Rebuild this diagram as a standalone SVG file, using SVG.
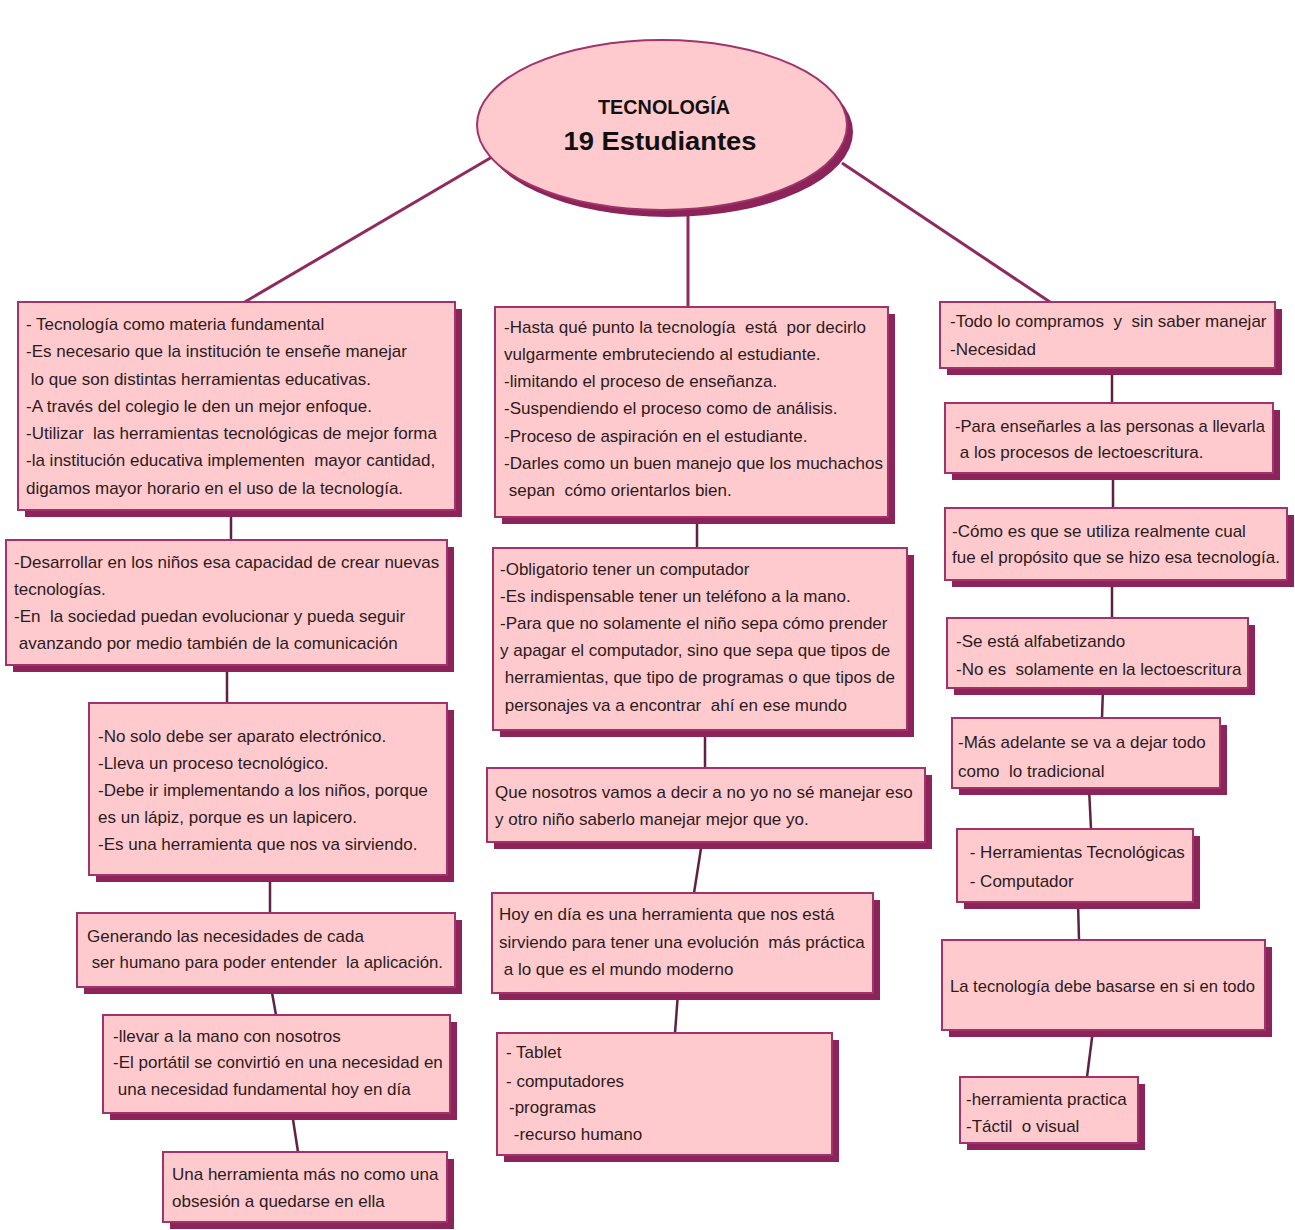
<svg xmlns="http://www.w3.org/2000/svg" width="1295" height="1230" viewBox="0 0 1295 1230" xml:space="preserve">
<style>
.sh{fill:#8C2459;stroke:none}
.bx{fill:#FFCACD;stroke:#A0346A;stroke-width:2}
.t{font-family:"Liberation Sans",Arial,sans-serif;font-size:17px;fill:#2B1B1E;white-space:pre}
.c{stroke:#5E2342;stroke-width:2.5;fill:none}
.ce{stroke:#8E2A5E;stroke-width:3;fill:none}
.h{font-family:"Liberation Sans",Arial,sans-serif;font-weight:bold;fill:#111}
</style>
<rect x="0" y="0" width="1295" height="1230" fill="#FFFFFF"/>
<g id="connectors">
<line class="ce" x1="492" y1="157" x2="243" y2="303"/>
<line class="ce" x1="688" y1="212" x2="688" y2="307"/>
<line class="ce" x1="842" y1="163" x2="1050" y2="302"/>
<line class="c" x1="231" y1="510" x2="231" y2="540"/>
<line class="c" x1="227" y1="665" x2="227" y2="703"/>
<line class="c" x1="270" y1="875" x2="270" y2="913"/>
<line class="c" x1="271" y1="987" x2="276" y2="1015"/>
<line class="c" x1="292" y1="1113" x2="298" y2="1152"/>
<line class="c" x1="697" y1="517" x2="697" y2="548"/>
<line class="c" x1="705" y1="730" x2="705" y2="768"/>
<line class="c" x1="702" y1="842" x2="694" y2="893"/>
<line class="c" x1="678" y1="993" x2="675" y2="1033"/>
<line class="c" x1="1112" y1="368" x2="1112" y2="403"/>
<line class="c" x1="1113" y1="473" x2="1113" y2="508"/>
<line class="c" x1="1112" y1="580" x2="1112" y2="618"/>
<line class="c" x1="1103" y1="688" x2="1102" y2="718"/>
<line class="c" x1="1089" y1="788" x2="1091" y2="829"/>
<line class="c" x1="1078" y1="902" x2="1079" y2="940"/>
<line class="c" x1="1093" y1="1030" x2="1087" y2="1077"/>
</g>
<g id="n-main">
<ellipse cx="668" cy="132" rx="185" ry="85" class="sh"/>
<ellipse cx="662" cy="125" rx="185" ry="85" fill="#FFCACD" stroke="#A0346A" stroke-width="2"/>
<text class="h" x="664" y="114" font-size="21" text-anchor="middle" textLength="132" lengthAdjust="spacingAndGlyphs">TECNOLOGÍA</text>
<text class="h" x="660" y="150" font-size="25" text-anchor="middle" textLength="193" lengthAdjust="spacingAndGlyphs">19 Estudiantes</text>
</g>
<g id="n-l1">
<rect class="sh" x="25" y="309" width="437" height="208"/>
<rect class="bx" x="18" y="302" width="437" height="208"/>
<text class="t"><tspan x="26" y="330">- Tecnología como materia fundamental</tspan><tspan x="26" y="357">-Es necesario que la institución te enseñe manejar</tspan><tspan x="26" y="385"> lo que son distintas herramientas educativas.</tspan><tspan x="26" y="412">-A través del colegio le den un mejor enfoque.</tspan><tspan x="26" y="439">-Utilizar  las herramientas tecnológicas de mejor forma</tspan><tspan x="26" y="466">-la institución educativa implementen  mayor cantidad,</tspan><tspan x="26" y="494">digamos mayor horario en el uso de la tecnología.</tspan></text>
</g>
<g id="n-l2">
<rect class="sh" x="13" y="547" width="441" height="125"/>
<rect class="bx" x="6" y="540" width="441" height="125"/>
<text class="t"><tspan x="14" y="568">-Desarrollar en los niños esa capacidad de crear nuevas</tspan><tspan x="14" y="595">tecnologías.</tspan><tspan x="14" y="622">-En  la sociedad puedan evolucionar y pueda seguir</tspan><tspan x="14" y="649"> avanzando por medio también de la comunicación</tspan></text>
</g>
<g id="n-l3">
<rect class="sh" x="96" y="710" width="358" height="172"/>
<rect class="bx" x="89" y="703" width="358" height="172"/>
<text class="t"><tspan x="98" y="742">-No solo debe ser aparato electrónico.</tspan><tspan x="98" y="769">-Lleva un proceso tecnológico.</tspan><tspan x="98" y="796">-Debe ir implementando a los niños, porque</tspan><tspan x="98" y="823">es un lápiz, porque es un lapicero.</tspan><tspan x="98" y="850">-Es una herramienta que nos va sirviendo.</tspan></text>
</g>
<g id="n-l4">
<rect class="sh" x="84" y="920" width="378" height="74"/>
<rect class="bx" x="77" y="913" width="378" height="74"/>
<text class="t"><tspan x="87" y="942">Generando las necesidades de cada</tspan><tspan x="87" y="968" textLength="356" lengthAdjust="spacingAndGlyphs"> ser humano para poder entender  la aplicación.</tspan></text>
</g>
<g id="n-l5">
<rect class="sh" x="110" y="1022" width="347" height="98"/>
<rect class="bx" x="103" y="1015" width="347" height="98"/>
<text class="t"><tspan x="113" y="1042">-llevar a la mano con nosotros</tspan><tspan x="113" y="1068">-El portátil se convirtió en una necesidad en</tspan><tspan x="113" y="1095"> una necesidad fundamental hoy en día</tspan></text>
</g>
<g id="n-l6">
<rect class="sh" x="170" y="1159" width="284" height="70"/>
<rect class="bx" x="163" y="1152" width="284" height="70"/>
<text class="t"><tspan x="172" y="1180">Una herramienta más no como una</tspan><tspan x="172" y="1207">obsesión a quedarse en ella</tspan></text>
</g>
<g id="n-m1">
<rect class="sh" x="502" y="314" width="393" height="210"/>
<rect class="bx" x="495" y="307" width="393" height="210"/>
<text class="t"><tspan x="504" y="333">-Hasta qué punto la tecnología  está  por decirlo</tspan><tspan x="504" y="360">vulgarmente embruteciendo al estudiante.</tspan><tspan x="504" y="387">-limitando el proceso de enseñanza.</tspan><tspan x="504" y="414">-Suspendiendo el proceso como de análisis.</tspan><tspan x="504" y="442">-Proceso de aspiración en el estudiante.</tspan><tspan x="504" y="469">-Darles como un buen manejo que los muchachos</tspan><tspan x="504" y="496"> sepan  cómo orientarlos bien.</tspan></text>
</g>
<g id="n-m2">
<rect class="sh" x="500" y="555" width="414" height="182"/>
<rect class="bx" x="493" y="548" width="414" height="182"/>
<text class="t"><tspan x="500" y="575">-Obligatorio tener un computador</tspan><tspan x="500" y="602">-Es indispensable tener un teléfono a la mano.</tspan><tspan x="500" y="629">-Para que no solamente el niño sepa cómo prender</tspan><tspan x="500" y="656">y apagar el computador, sino que sepa que tipos de</tspan><tspan x="500" y="683"> herramientas, que tipo de programas o que tipos de</tspan><tspan x="500" y="711"> personajes va a encontrar  ahí en ese mundo</tspan></text>
</g>
<g id="n-m3">
<rect class="sh" x="494" y="775" width="438" height="74"/>
<rect class="bx" x="487" y="768" width="438" height="74"/>
<text class="t"><tspan x="495" y="798">Que nosotros vamos a decir a no yo no sé manejar eso</tspan><tspan x="495" y="825">y otro niño saberlo manejar mejor que yo.</tspan></text>
</g>
<g id="n-m4">
<rect class="sh" x="499" y="900" width="381" height="100"/>
<rect class="bx" x="492" y="893" width="381" height="100"/>
<text class="t"><tspan x="499" y="920">Hoy en día es una herramienta que nos está</tspan><tspan x="499" y="948">sirviendo para tener una evolución  más práctica</tspan><tspan x="499" y="975"> a lo que es el mundo moderno</tspan></text>
</g>
<g id="n-m5">
<rect class="sh" x="504" y="1040" width="335" height="122"/>
<rect class="bx" x="497" y="1033" width="335" height="122"/>
<text class="t"><tspan x="506" y="1058">- Tablet</tspan><tspan x="506" y="1087">- computadores</tspan><tspan x="509" y="1113">-programas</tspan><tspan x="509" y="1140"> -recurso humano</tspan></text>
</g>
<g id="n-r1">
<rect class="sh" x="947" y="309" width="335" height="66"/>
<rect class="bx" x="940" y="302" width="335" height="66"/>
<text class="t"><tspan x="950" y="327">-Todo lo compramos  y  sin saber manejar</tspan><tspan x="950" y="355">-Necesidad</tspan></text>
</g>
<g id="n-r2">
<rect class="sh" x="952" y="410" width="328" height="70"/>
<rect class="bx" x="945" y="403" width="328" height="70"/>
<text class="t"><tspan x="955" y="432" textLength="310" lengthAdjust="spacingAndGlyphs">-Para enseñarles a las personas a llevarla</tspan><tspan x="955" y="458"> a los procesos de lectoescritura.</tspan></text>
</g>
<g id="n-r3">
<rect class="sh" x="952" y="515" width="342" height="72"/>
<rect class="bx" x="945" y="508" width="342" height="72"/>
<text class="t"><tspan x="952" y="537">-Cómo es que se utiliza realmente cual</tspan><tspan x="952" y="563">fue el propósito que se hizo esa tecnología.</tspan></text>
</g>
<g id="n-r4">
<rect class="sh" x="954" y="625" width="301" height="70"/>
<rect class="bx" x="947" y="618" width="301" height="70"/>
<text class="t"><tspan x="956" y="647">-Se está alfabetizando</tspan><tspan x="956" y="675">-No es  solamente en la lectoescritura</tspan></text>
</g>
<g id="n-r5">
<rect class="sh" x="959" y="725" width="268" height="70"/>
<rect class="bx" x="952" y="718" width="268" height="70"/>
<text class="t"><tspan x="958" y="748">-Más adelante se va a dejar todo</tspan><tspan x="958" y="777">como  lo tradicional</tspan></text>
</g>
<g id="n-r6">
<rect class="sh" x="964" y="836" width="236" height="73"/>
<rect class="bx" x="957" y="829" width="236" height="73"/>
<text class="t"><tspan x="965" y="858"> - Herramientas Tecnológicas</tspan><tspan x="965" y="887"> - Computador</tspan></text>
</g>
<g id="n-r7">
<rect class="sh" x="949" y="947" width="323" height="90"/>
<rect class="bx" x="942" y="940" width="323" height="90"/>
<text class="t"><tspan x="950" y="992" textLength="305" lengthAdjust="spacingAndGlyphs">La tecnología debe basarse en si en todo</tspan></text>
</g>
<g id="n-r8">
<rect class="sh" x="967" y="1084" width="178" height="66"/>
<rect class="bx" x="960" y="1077" width="178" height="66"/>
<text class="t"><tspan x="966" y="1105">-herramienta practica</tspan><tspan x="966" y="1132">-Táctil  o visual</tspan></text>
</g>
</svg>
